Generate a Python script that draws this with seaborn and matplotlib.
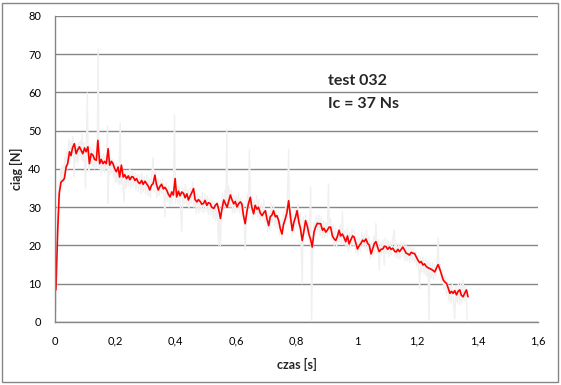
import matplotlib
matplotlib.use('Agg')
import matplotlib.pyplot as plt
from matplotlib.patches import Rectangle
import seaborn as sns
import pandas as pd

# Dane: ciag wygladzony (czerwony)
czas_red = [0.000, 0.003, 0.009, 0.014, 0.020, 0.026, 0.031, 0.037, 0.042, 0.048,
            0.053, 0.058, 0.064, 0.070, 0.075, 0.081, 0.087, 0.092, 0.098, 0.103,
            0.109, 0.114, 0.120, 0.126, 0.131, 0.137, 0.142, 0.148, 0.153, 0.159,
            0.164, 0.170, 0.176, 0.181, 0.187, 0.192, 0.198, 0.203, 0.209, 0.214,
            0.220, 0.226, 0.231, 0.237, 0.243, 0.248, 0.254, 0.259, 0.265, 0.270,
            0.276, 0.281, 0.287, 0.292, 0.298, 0.303, 0.309, 0.314, 0.320, 0.325,
            0.331, 0.336, 0.342, 0.348, 0.353, 0.359, 0.364, 0.370, 0.375, 0.381,
            0.387, 0.392, 0.398, 0.403, 0.409, 0.414, 0.420, 0.426, 0.431, 0.437,
            0.442, 0.448, 0.453, 0.459, 0.464, 0.470, 0.475, 0.481, 0.486, 0.492,
            0.497, 0.503, 0.508, 0.514, 0.519, 0.526, 0.531, 0.537, 0.542, 0.548,
            0.553, 0.559, 0.564, 0.570, 0.575, 0.581, 0.586, 0.592, 0.597, 0.603,
            0.608, 0.614, 0.619, 0.624, 0.630, 0.636, 0.641, 0.647, 0.652, 0.658,
            0.663, 0.669, 0.674, 0.680, 0.686, 0.691, 0.697, 0.702, 0.708, 0.713,
            0.719, 0.724, 0.730, 0.735, 0.741, 0.746, 0.752, 0.757, 0.763, 0.768,
            0.774, 0.780, 0.786, 0.791, 0.797, 0.802, 0.808, 0.813, 0.819, 0.825,
            0.830, 0.836, 0.841, 0.847, 0.852, 0.858, 0.863, 0.869, 0.874, 0.880,
            0.886, 0.891, 0.897, 0.902, 0.908, 0.913, 0.919, 0.924, 0.930, 0.936,
            0.941, 0.946, 0.952, 0.958, 0.963, 0.969, 0.974, 0.980, 0.986, 0.991,
            0.997, 1.002, 1.008, 1.013, 1.019, 1.024, 1.030, 1.036, 1.041, 1.047,
            1.052, 1.058, 1.063, 1.069, 1.074, 1.080, 1.086, 1.091, 1.097, 1.102,
            1.108, 1.113, 1.119, 1.125, 1.130, 1.136, 1.141, 1.147, 1.152, 1.158,
            1.163, 1.169, 1.174, 1.180, 1.185, 1.191, 1.197, 1.202, 1.208, 1.213,
            1.219, 1.224, 1.230, 1.235, 1.241, 1.246, 1.252, 1.258, 1.263, 1.269,
            1.274, 1.280, 1.286, 1.291, 1.297, 1.302, 1.308, 1.313, 1.319, 1.324,
            1.330, 1.335, 1.341, 1.346, 1.352, 1.357, 1.363, 1.368]
ciag_red = [15.0, 8.4, 24.0, 33.6, 36.6, 37.0, 37.5, 40.6, 41.4, 44.5,
            43.5, 45.5, 46.6, 44.0, 45.0, 45.8, 44.8, 44.0, 45.5, 44.5,
            45.8, 41.4, 44.0, 43.6, 42.5, 42.3, 47.5, 41.4, 42.5, 41.4,
            42.0, 41.4, 45.3, 41.0, 42.0, 41.4, 40.0, 39.3, 40.5, 37.9,
            41.0, 37.9, 38.5, 37.5, 38.2, 37.2, 38.0, 37.9, 37.0, 37.5,
            36.5, 36.2, 37.0, 36.0, 36.8, 36.2, 35.5, 34.5, 35.8, 36.2,
            38.4, 36.0, 34.5, 35.5, 36.0, 34.8, 35.2, 34.5, 33.5, 32.7,
            34.0, 33.2, 37.5, 32.7, 34.2, 33.0, 34.0, 33.6, 32.5, 33.5,
            31.9, 33.0, 33.8, 34.9, 32.0, 31.4, 32.0, 31.5, 30.8, 31.0,
            31.8, 30.5, 31.2, 31.0, 30.0, 29.7, 30.5, 31.0, 29.5, 27.1,
            29.5, 31.9, 31.0, 30.0, 31.5, 33.2, 32.0, 30.9, 31.5, 30.1,
            30.9, 31.4, 30.9, 28.0, 25.7, 29.0, 31.0, 32.6, 30.0, 28.3,
            30.5, 29.5, 30.0, 28.5, 27.8, 28.5, 29.1, 27.0, 25.2, 27.5,
            28.0, 29.1, 27.5, 27.8, 26.5, 24.5, 23.0, 25.5, 27.0, 28.5,
            31.7, 27.5, 23.9, 26.0, 27.5, 29.1, 26.0, 24.5, 21.3, 24.0,
            26.5, 25.0, 23.0, 21.5, 19.6, 23.5, 24.8, 25.8, 25.7, 25.7,
            24.0, 24.5, 23.5, 24.0, 24.8, 24.8, 22.5, 21.8, 21.3, 22.5,
            24.0, 22.5, 23.0, 22.0, 21.0, 22.5, 20.4, 21.5, 22.5, 22.2,
            20.5, 19.1, 20.0, 20.5, 21.4, 21.0, 21.7, 20.5, 20.1, 17.8,
            19.0, 20.5, 21.0, 19.5, 18.4, 19.0, 19.1, 19.8, 19.7, 19.0,
            19.6, 19.0, 19.3, 18.5, 18.3, 19.0, 18.4, 19.0, 19.6, 18.8,
            18.0, 17.8, 17.5, 18.2, 18.0, 17.9, 17.0, 16.2, 15.5, 15.8,
            14.9, 15.2, 14.5, 14.2, 14.0, 13.8, 13.5, 13.1, 14.0, 15.0,
            14.0, 12.5, 11.0, 10.5, 10.1, 9.0, 7.5, 8.0, 7.5, 8.2,
            7.1, 8.0, 8.4, 7.0, 6.6, 7.5, 8.4, 6.6]

# Dane surowe (szary)
czas_raw = [0.000, 0.002, 0.004, 0.007, 0.010, 0.013, 0.016, 0.019, 0.022, 0.025,
            0.028, 0.032, 0.035, 0.038, 0.041, 0.046, 0.049, 0.052, 0.055, 0.059,
            0.062, 0.064, 0.067, 0.070, 0.073, 0.076, 0.079, 0.082, 0.085, 0.088,
            0.090, 0.093, 0.096, 0.101, 0.104, 0.107, 0.110, 0.113, 0.116, 0.119,
            0.122, 0.125, 0.128, 0.131, 0.134, 0.137, 0.140, 0.143, 0.146, 0.149,
            0.152, 0.155, 0.158, 0.161, 0.164, 0.167, 0.170, 0.174, 0.176, 0.179,
            0.182, 0.185, 0.188, 0.191, 0.194, 0.197, 0.200, 0.203, 0.206, 0.209,
            0.212, 0.216, 0.219, 0.222, 0.225, 0.229, 0.232, 0.236, 0.240, 0.244,
            0.248, 0.252, 0.256, 0.260, 0.264, 0.268, 0.272, 0.276, 0.280, 0.284,
            0.288, 0.292, 0.296, 0.300, 0.304, 0.308, 0.312, 0.316, 0.320, 0.325,
            0.329, 0.333, 0.337, 0.341, 0.345, 0.349, 0.353, 0.357, 0.361, 0.364,
            0.368, 0.372, 0.376, 0.380, 0.384, 0.388, 0.392, 0.396, 0.399, 0.403,
            0.407, 0.411, 0.415, 0.420, 0.424, 0.428, 0.432, 0.436, 0.440, 0.444,
            0.448, 0.452, 0.456, 0.460, 0.464, 0.468, 0.472, 0.476, 0.480, 0.484,
            0.488, 0.492, 0.496, 0.500, 0.504, 0.508, 0.512, 0.516, 0.520, 0.524,
            0.528, 0.532, 0.536, 0.542, 0.545, 0.548, 0.551, 0.555, 0.559, 0.563,
            0.566, 0.569, 0.572, 0.576, 0.580, 0.584, 0.588, 0.592, 0.596, 0.600,
            0.604, 0.608, 0.612, 0.616, 0.620, 0.624, 0.630, 0.634, 0.638, 0.641,
            0.644, 0.648, 0.652, 0.656, 0.660, 0.664, 0.668, 0.672, 0.676, 0.680,
            0.684, 0.688, 0.692, 0.696, 0.700, 0.704, 0.708, 0.712, 0.716, 0.720,
            0.724, 0.728, 0.732, 0.736, 0.740, 0.744, 0.748, 0.752, 0.756, 0.760,
            0.764, 0.768, 0.774, 0.777, 0.781, 0.785, 0.789, 0.793, 0.797, 0.801,
            0.805, 0.809, 0.813, 0.819, 0.822, 0.826, 0.830, 0.834, 0.838, 0.842,
            0.847, 0.850, 0.854, 0.858, 0.862, 0.866, 0.870, 0.874, 0.878, 0.882,
            0.886, 0.890, 0.894, 0.898, 0.902, 0.906, 0.909, 0.913, 0.917, 0.921,
            0.925, 0.929, 0.933, 0.937, 0.941, 0.945, 0.949, 0.952, 0.956, 0.960,
            0.964, 0.968, 0.972, 0.976, 0.980, 0.984, 0.988, 0.992, 0.996, 1.000,
            1.004, 1.008, 1.012, 1.016, 1.020, 1.024, 1.028, 1.032, 1.036, 1.040,
            1.044, 1.048, 1.052, 1.056, 1.060, 1.063, 1.067, 1.071, 1.074, 1.078,
            1.082, 1.086, 1.091, 1.094, 1.098, 1.102, 1.106, 1.110, 1.114, 1.118,
            1.124, 1.127, 1.131, 1.135, 1.139, 1.143, 1.147, 1.151, 1.155, 1.159,
            1.163, 1.167, 1.171, 1.175, 1.179, 1.183, 1.187, 1.191, 1.195, 1.199,
            1.203, 1.208, 1.211, 1.215, 1.219, 1.223, 1.227, 1.231, 1.235, 1.239,
            1.242, 1.246, 1.250, 1.254, 1.258, 1.262, 1.266, 1.269, 1.272, 1.276,
            1.280, 1.284, 1.288, 1.292, 1.296, 1.300, 1.304, 1.308, 1.312, 1.316,
            1.320, 1.324, 1.328, 1.332, 1.336, 1.340, 1.344, 1.348, 1.352, 1.356,
            1.360, 1.366]
ciag_raw = [0.0, 12.0, 3.0, 22.0, 30.0, 36.0, 33.0, 40.0, 36.5, 41.0,
            36.0, 43.0, 39.0, 44.5, 40.0, 47.7, 42.5, 47.0, 43.0, 48.6,
            43.5, 38.0, 47.0, 42.0, 46.5, 41.5, 47.0, 43.5, 47.5, 42.5,
            49.0, 42.0, 47.0, 34.9, 46.0, 59.9, 42.5, 39.5, 46.0, 41.5,
            45.5, 40.5, 45.0, 40.0, 44.5, 40.5, 46.0, 71.3, 40.0, 44.5,
            39.0, 43.5, 39.5, 44.0, 39.0, 43.5, 40.0, 51.2, 31.0, 43.5,
            38.5, 43.0, 39.0, 42.5, 38.0, 42.0, 36.5, 41.5, 36.5, 41.0,
            36.0, 52.1, 36.0, 40.5, 36.0, 31.4, 39.5, 35.0, 39.5, 35.5,
            40.0, 35.0, 39.5, 35.5, 39.0, 34.5, 38.5, 34.0, 38.5, 33.5,
            39.0, 34.0, 38.0, 33.5, 38.5, 33.0, 37.5, 32.5, 38.0, 43.0,
            34.0, 39.5, 32.5, 37.5, 33.0, 37.0, 33.5, 37.5, 33.0, 27.5,
            36.5, 31.5, 35.5, 30.5, 34.5, 31.0, 35.0, 54.2, 31.0, 36.0,
            31.0, 35.5, 30.5, 23.6, 35.0, 31.0, 36.0, 30.5, 34.5, 29.5,
            35.0, 31.0, 36.5, 30.0, 34.0, 28.5, 33.5, 28.5, 33.0, 29.0,
            34.0, 28.5, 33.5, 29.0, 33.0, 28.0, 32.5, 28.0, 32.0, 27.0,
            31.5, 26.5, 31.0, 20.1, 30.0, 20.0, 29.0, 33.5, 29.5, 34.5,
            30.0, 50.3, 30.0, 35.5, 30.0, 34.5, 28.5, 33.0, 28.5, 33.0,
            29.0, 33.5, 28.5, 32.5, 27.5, 31.0, 19.1, 28.0, 33.5, 30.0,
            45.2, 28.5, 33.0, 27.0, 32.0, 28.0, 33.0, 27.5, 32.0, 26.5,
            31.0, 27.0, 32.0, 26.0, 29.0, 23.5, 28.0, 24.0, 31.0, 26.0,
            30.5, 25.0, 29.0, 24.5, 28.5, 22.5, 26.5, 21.5, 28.5, 25.5,
            30.0, 26.5, 45.2, 26.0, 30.0, 22.5, 28.0, 23.5, 29.5, 25.0,
            31.0, 24.0, 28.5, 10.0, 27.5, 23.0, 28.0, 22.5, 26.5, 21.0,
            35.2, 0.0, 22.5, 26.0, 22.5, 27.5, 23.5, 28.0, 22.5, 27.5,
            22.0, 26.5, 22.0, 26.0, 22.5, 36.1, 23.0, 27.0, 21.5, 25.5,
            20.0, 24.5, 19.5, 24.0, 21.0, 25.5, 20.5, 28.9, 20.5, 24.0,
            19.5, 24.5, 18.5, 23.5, 19.5, 24.5, 20.0, 24.0, 18.0, 22.0,
            17.5, 22.0, 18.5, 23.5, 19.5, 23.0, 19.0, 24.0, 18.5, 22.5,
            16.5, 21.0, 17.0, 22.5, 18.5, 25.8, 18.0, 21.5, 13.5, 21.0,
            17.5, 21.5, 14.9, 22.0, 18.0, 21.5, 17.0, 21.0, 17.5, 21.0,
            24.0, 17.0, 20.5, 16.5, 20.5, 16.5, 21.0, 17.0, 21.0, 16.0,
            20.0, 16.0, 19.5, 15.5, 19.5, 16.0, 19.5, 15.5, 18.5, 14.5,
            17.5, 8.7, 17.0, 13.0, 17.0, 12.5, 16.5, 12.0, 16.0, 0.0,
            15.5, 11.5, 15.5, 11.0, 15.0, 12.0, 16.5, 21.9, 13.5, 15.0,
            10.5, 13.5, 8.5, 12.0, 7.0, 11.0, 5.5, 9.5, 5.0, 10.0,
            5.5, 0.9, 9.5, 5.0, 10.0, 4.5, 10.5, 5.0, 11.0, 5.5,
            9.5, 0.0]

x_ticks = [0, 0.2, 0.4, 0.6, 0.8, 1.0, 1.2, 1.4, 1.6]
x_tick_labels = ['0', '0,2', '0,4', '0,6', '0,8', '1', '1,2', '1,4', '1,6']
y_ticks = [0, 10, 20, 30, 40, 50, 60, 70, 80]

sns.set_style('white')
plt.rcParams['font.family'] = ['Lato', 'DejaVu Sans']

df_raw = pd.DataFrame({'czas': czas_raw, 'ciag': ciag_raw})
df_red = pd.DataFrame({'czas': czas_red, 'ciag': ciag_red})

fig = plt.figure(figsize=(5.61, 3.85), dpi=100)
ax = fig.add_axes([55 / 561, 1 - 322 / 385, 483 / 561, 306 / 385])

sns.lineplot(data=df_raw, x='czas', y='ciag', estimator=None, sort=False,
             color='#f0f0f0', linewidth=1.0, ax=ax)
sns.lineplot(data=df_red, x='czas', y='ciag', estimator=None, sort=False,
             color='#ff0000', linewidth=1.2, ax=ax)

ax.set_xlim(0, 1.6)
ax.set_ylim(0, 80)
ax.set_xticks(x_ticks)
ax.set_xticklabels(x_tick_labels)
ax.set_yticks(y_ticks)
ax.yaxis.grid(True, color='#868686', linewidth=1)
ax.set_axisbelow(True)
for s in ['top', 'right']:
    ax.spines[s].set_visible(False)
for s in ['left', 'bottom']:
    ax.spines[s].set_color('#868686')
    ax.spines[s].set_linewidth(1)
ax.tick_params(axis='both', direction='out', length=4, width=1, color='#868686',
               labelsize=8, labelcolor='black', pad=6)

ax.set_xlabel('czas [s]', fontsize=9, fontweight='bold', labelpad=8)
ax.set_ylabel('ciąg [N]', fontsize=9, fontweight='bold', labelpad=4)

ax.text(0.905, 63.0, 'test 032', fontsize=11.5, fontweight='bold', va='center')
ax.text(0.905, 57.0, 'Ic = 37 Ns', fontsize=11.5, fontweight='bold', va='center')

fig.add_artist(Rectangle((2 / 561, 3 / 385), 556 / 561, 379 / 385,
                         transform=fig.transFigure, fill=False,
                         edgecolor='#868686', linewidth=1))

fig.savefig('out.png', dpi=100)
